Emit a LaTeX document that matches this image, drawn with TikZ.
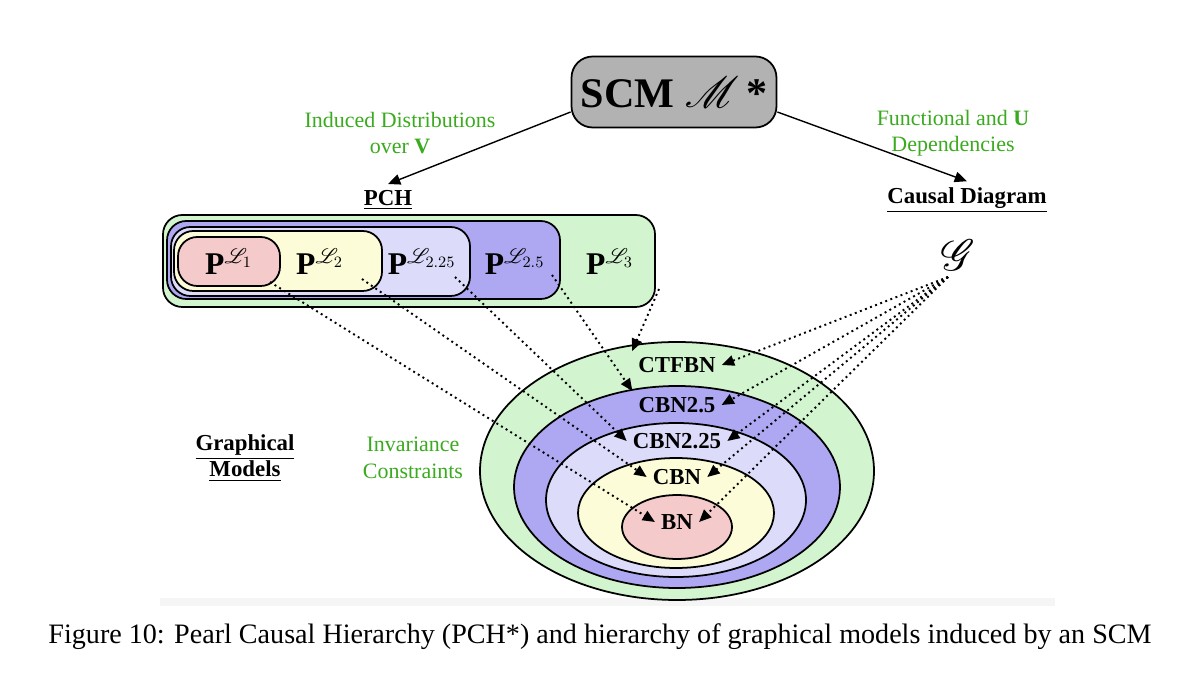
\documentclass[tikz,border=0pt]{standalone}
\usepackage{amsmath}
\usepackage{mathrsfs}
\usepackage{fontspec}
\setmainfont{Liberation Serif}
\usetikzlibrary{arrows.meta, positioning}
\definecolor{lgreen}{HTML}{D2F5CF}
\definecolor{mpurple}{HTML}{AEA8F2}
\definecolor{lpurple}{HTML}{DCDBFA}
\definecolor{lyellow}{HTML}{FCFCD8}
\definecolor{lpink}{HTML}{F4CACA}
\definecolor{tgreen}{HTML}{3AAA1E}
\tikzset{
    lvl/.style={draw=black, line width=1pt, rounded corners=11pt},
    ring/.style={draw=black, line width=1pt},
    glab/.style={font=\bfseries\fontsize{13}{15}\selectfont},
    plab/.style={font=\bfseries\fontsize{18}{21}\selectfont},
    note/.style={text=tgreen, align=center, font=\fontsize{12.5}{15}\selectfont},
    head/.style={font=\bfseries\fontsize{13}{15}\selectfont},
    dots/.style={dotted, line width=1.1pt, -{Triangle[length=7pt,width=6pt]}}
}
\newcommand{\pl}[1]{P$^{\mathscr{L}_{#1}}$}
\begin{document}
\begin{tikzpicture}[x=0.02cm, y=-0.02cm]
        \useasboundingbox (0,0) rectangle (1200,685);
        \fill[gray!8] (160,598) rectangle (1055,606);
        % SCM
        \node[draw=black, line width=1pt, fill=gray!60, rounded corners=12pt, minimum width=4.1cm, minimum height=1.42cm,
              font=\bfseries\fontsize{24}{28}\selectfont] (scm) at (674,92) {SCM $\mathscr{M}$\,*};
        \node[head] (pch) at (388,200) {\underline{PCH}};
        \node[head] (cd) at (967,200) {\underline{Causal Diagram}};
        \node[note] at (400,133) {Induced Distributions\\over \textbf{V}};
        \node[note] at (953,133) {Functional and \textbf{U}\\Dependencies};
        \draw[thick, -{Triangle[length=7pt,width=6pt]}] (scm.west |- 0,112) -- (pch.north);
        \draw[thick, -{Triangle[length=7pt,width=6pt]}] (scm.east |- 0,112) -- (cd.north);

        % PCH boxes
        \draw[lvl, fill=lgreen] (163,215) rectangle (655,307);
        \draw[lvl, fill=mpurple] (167,221) rectangle (560,299);
        \draw[lvl, fill=lpurple] (171,227) rectangle (470,296);
        \draw[lvl, fill=lyellow] (174,231) rectangle (382,291);
        \draw[lvl, fill=lpink] (178,237) rectangle (280,286);
        \node[plab] (p1) at (229,262) {\pl{1}};
        \node[plab] (p2) at (320,262) {\pl{2}};
        \node[plab] (p3) at (422,262) {\pl{2.25}};
        \node[plab] (p4) at (515,262) {\pl{2.5}};
        \node[plab] (p5) at (610,262) {\pl{3}};
        \coordinate (s1) at (270,282);
        \coordinate (s2) at (362,279);
        \coordinate (s3) at (455,277);
        \coordinate (s4) at (552,275);
        \coordinate (s5) at (659,289);

        % Graphical models
        \draw[ring, fill=lgreen] (677,471) ellipse (197 and 129);
        \draw[ring, fill=mpurple] (677,487) ellipse (163 and 101);
        \draw[ring, fill=lpurple] (676,500) ellipse (130 and 77);
        \draw[ring, fill=lyellow] (676,513) ellipse (98 and 55);
        \draw[ring, fill=lpink] (677,527) ellipse (55 and 32);
        \node[glab] (ctf) at (677,365) {CTFBN};
        \node[glab] (c25) at (677,405) {CBN2.5};
        \node[glab] (c225) at (677,441) {CBN2.25};
        \node[glab] (cbn) at (677,477) {CBN};
        \node[glab] (bn) at (677,522) {BN};
        \node[font=\fontsize{36}{40}\selectfont] (g) at (958,255) {$\mathscr{G}$};
        \coordinate (gs) at (948,277);
        \node[head, align=center] at (245,458) {\underline{Graphical}\\\underline{Models}};
        \node[note] at (413,458) {Invariance\\Constraints};

        % dotted links
        \draw[dots] (s1) -- (bn.west);
        \draw[dots] (s2) -- (cbn.west);
        \draw[dots] (s3) -- (c225.west);
        \draw[dots] (s4) -- (c25.north west);
        \draw[dots] (s5) -- (ctf.north west);
        \foreach \t in {ctf,c25,c225,cbn,bn}
            \draw[dots] (gs) -- (\t.east);

        \node[font=\fontsize{16}{19}\selectfont] (cap) at (600,637)
            {Figure 10: Pearl Causal Hierarchy (PCH*) and hierarchy of graphical models induced by an SCM};
\end{tikzpicture}
\end{document}
